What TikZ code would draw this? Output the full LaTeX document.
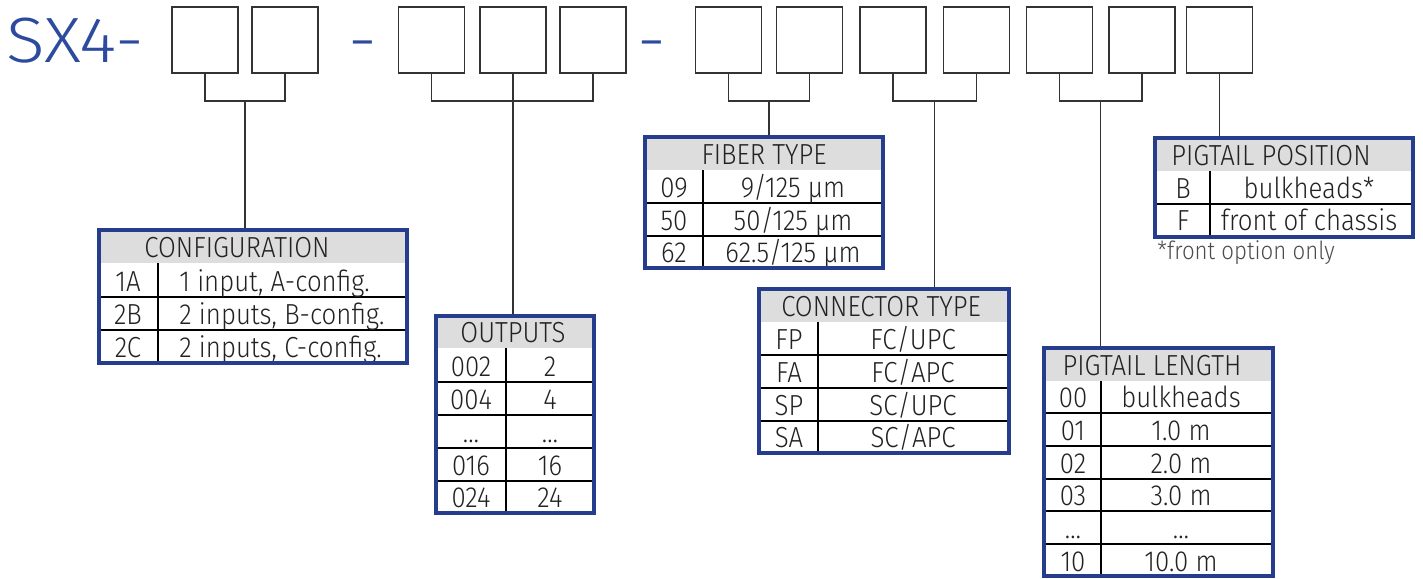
\documentclass[tikz,border=0pt]{standalone}
\usepackage{fontspec}
\setmainfont{Fira Sans Light}[FakeStretch=0.89]
\newfontfamily\codefont{Fira Sans Light}[FakeStretch=1.12]
\usetikzlibrary{fit,calc}

\definecolor{codeblue}{RGB}{44,74,158}
\definecolor{frameblue}{RGB}{37,61,140}
\definecolor{headgray}{RGB}{221,221,221}
\definecolor{ink}{RGB}{34,34,34}

\begin{document}
\begin{tikzpicture}[x=0.5pt,y=-0.5pt,
  slot/.style={draw=black!80,line width=0.8pt,minimum width=33pt,minimum height=33pt,inner sep=0pt,outer sep=0pt},
  link/.style={draw=black!80,line width=0.7pt},
  frame/.style={draw=frameblue,line width=1.6pt,inner sep=0pt},
  head/.style={fill=headgray},
  rule/.style={draw=black,line width=0.7pt},
  cell/.style={font=\fontsize{14.5}{16}\selectfont,text=ink,anchor=base,inner sep=0pt},
  code/.style={font=\codefont\fontsize{32}{34}\selectfont,text=codeblue,anchor=base west,inner sep=0pt}]

\useasboundingbox (0,0) rectangle (1423,578);

% part number
\node[code] (sx) at (6,62) {SX4-};
\node[code,anchor=base] (d1) at (363,62) {-};
\node[code,anchor=base] (d2) at (652,62) {-};

\foreach \n/\x in {1/205,2/285,3/431.5,4/513,5/593,6/728.5,7/809.5,8/893,9/976.5,10/1059.5,11/1142,12/1219.5}
  \node[slot] (b\n) at (\x,40) {};

% configuration
\fill[head] (99,232) rectangle (407,263);
\draw[rule] (158,263) -- (158,363);
\foreach \y in {297,330} \draw[rule] (99,\y) -- (407,\y);
\node[cell] (cfg-h) at (237,257) {CONFIGURATION};
\foreach \y/\k/\v [count=\i] in {291/1A/{1 input, A-config.},324/2B/{2 inputs, B-config.},357/2C/{2 inputs, C-config.}} {
  \node[cell] (cfg-k\i) at (128,\y) {\k};
  \node[cell,anchor=base west] (cfg-v\i) at (179,\y) {\v};
}
\node[frame,fit={(99,230) (407,363)}] (cfg) {};

% outputs
\fill[head] (438,318) rectangle (592,348);
\draw[rule] (506,348) -- (506,513);
\foreach \y in {382,415,448,481} \draw[rule] (436,\y) -- (594,\y);
\node[cell] (out-h) at (513,342) {OUTPUTS};
\foreach \y/\k/\v [count=\i] in {376/002/2,409/004/4,442/\ldots/\ldots,475/016/16,507/024/24} {
  \node[cell] (out-k\i) at (471,\y) {\k};
  \node[cell] (out-v\i) at (550,\y) {\v};
}
\node[frame,fit={(436,316) (594,513)}] (out) {};

% fiber type
\fill[head] (647,139) rectangle (881,170);
\draw[rule] (703,170) -- (703,268);
\foreach \y in {203,236} \draw[rule] (645,\y) -- (883,\y);
\node[cell] (fib-h) at (764,164) {FIBER TYPE};
\foreach \y/\k/\v [count=\i] in {197/09/{9/125 µm},230/50/{50/125 µm},262/62/{62.5/125 µm}} {
  \node[cell] (fib-k\i) at (674,\y) {\k};
  \node[cell] (fib-v\i) at (793,\y) {\v};
}
\node[frame,fit={(645,137) (883,268)}] (fib) {};

% connector type
\fill[head] (761,291) rectangle (1007,322);
\draw[rule] (818,322) -- (818,453);
\foreach \y in {355,388,421} \draw[rule] (759,\y) -- (1009,\y);
\node[cell] (con-h) at (881,316) {CONNECTOR TYPE};
\foreach \y/\k/\v [count=\i] in {349/FP/FC\slash UPC,382/FA/FC\slash APC,415/SP/SC\slash UPC,447/SA/SC\slash APC} {
  \node[cell] (con-k\i) at (789,\y) {\k};
  \node[cell] (con-v\i) at (913,\y) {\v};
}
\node[frame,fit={(759,289) (1009,453)}] (con) {};

% pigtail length
\fill[head] (1046,350) rectangle (1271,381);
\draw[rule] (1101,381) -- (1101,576);
\foreach \y in {413,446,479,511,544} \draw[rule] (1044,\y) -- (1273,\y);
\node[cell] (len-h) at (1152,375) {PIGTAIL LENGTH};
\foreach \y/\k/\v [count=\i] in {407/00/bulkheads,440/01/1.0 m,473/02/2.0 m,505/03/3.0 m,538/\ldots/\ldots,571/10/10.0 m} {
  \node[cell] (len-k\i) at (1073,\y) {\k};
  \node[cell] (len-v\i) at (1181,\y) {\v};
}
\node[frame,fit={(1044,348) (1273,576)}] (len) {};

% pigtail position
\fill[head] (1157,140) rectangle (1411,171);
\draw[rule] (1210,171) -- (1210,237);
\draw[rule] (1155,204) -- (1413,204);
\node[cell] (pos-h) at (1271,165) {PIGTAIL POSITION};
\foreach \y/\k/\v [count=\i] in {198/B/bulkheads*,230/F/front of chassis} {
  \node[cell] (pos-k\i) at (1183,\y) {\k};
  \node[cell] (pos-v\i) at (1309,\y) {\v};
}
\node[frame,fit={(1155,138) (1413,237)}] (pos) {};
\node[cell,anchor=base west,font=\fontsize{12.5}{14}\selectfont,text=black!70] (pos-note) at (1157,259) {*front option only};

% brackets and stems
\draw[link] (b1.south) -- ++(0,28) -| (b2.south);
\coordinate (s1) at ($(b1.south)!.5!(b2.south)+(0,28)$);
\draw[link] (s1) -- (s1 |- cfg.north);

\draw[link] (b3.south) -- ++(0,28) -| (b5.south);
\draw[link] (b4.south) -- (b4.south |- out.north);

\draw[link] (b6.south) -- ++(0,28) -| (b7.south);
\coordinate (s3) at ($(b6.south)!.5!(b7.south)+(0,28)$);
\draw[link] (s3) -- (s3 |- fib.north);

\draw[link] (b8.south) -- ++(0,28) -| (b9.south);
\coordinate (s4) at ($(b8.south)!.5!(b9.south)+(0,28)$);
\draw[link] (s4) -- (s4 |- con.north);

\draw[link] (b10.south) -- ++(0,28) -| (b11.south);
\coordinate (s5) at ($(b10.south)!.5!(b11.south)+(0,28)$);
\draw[link] (s5) -- (s5 |- len.north);

\draw[link] (b12.south) -- (b12.south |- pos.north);

\end{tikzpicture}
\end{document}
